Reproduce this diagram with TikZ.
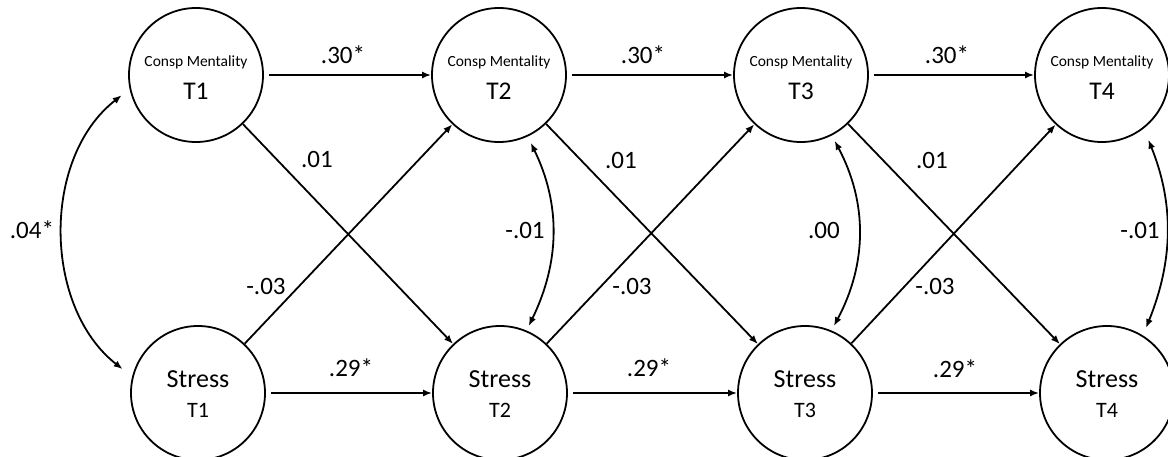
\documentclass[tikz,border=0pt]{standalone}
\usepackage{fontspec}
\setmainfont{Carlito}
\usetikzlibrary{arrows.meta}
\begin{document}
\begin{tikzpicture}[x=1pt,y=1pt,
  var/.style={circle, draw, line width=1.8pt, minimum size=134pt, inner sep=0pt},
  smalltxt/.style={font=\fontsize{15.5}{16}\selectfont, inner sep=0pt, anchor=base},
  bigtxt/.style={font=\fontsize{25.5}{26}\selectfont, inner sep=0pt, anchor=base},
  stresstxt/.style={font=\fontsize{26}{27}\selectfont, inner sep=0pt, anchor=base},
  wavetxt/.style={font=\fontsize{22}{23}\selectfont, inner sep=0pt, anchor=base},
  coef/.style={font=\fontsize{25}{26}\selectfont, inner sep=0pt},
  tip/.tip={Latex[length=9pt,width=7pt]},
  path/.style={-tip, line width=1.8pt},
  cov/.style={tip-tip, line width=1.8pt}]
\useasboundingbox (0,0) rectangle (1168,-457);

% latent variables: conspiracy mentality (top) and stress (bottom), four waves
\foreach \i/\x in {1/196, 2/499, 3/801, 4/1102} {
  \node[var] (c\i) at (\x,-75) {};
  \node[smalltxt] (c\i name) at (\x,-67) {Consp Mentality};
  \node[bigtxt] (c\i wave) at (\x,-100) {T\i};
}
\foreach \i/\x in {1/198, 2/500, 3/805, 4/1107} {
  \node[var] (s\i) at (\x,-393) {};
  \node[stresstxt] (s\i name) at (\x,-387) {Stress};
  \node[wavetxt] (s\i wave) at (\x,-417) {T\i};
}

% autoregressive and cross-lagged paths
\foreach \a/\b in {1/2, 2/3, 3/4} {
  \draw[path, shorten <=5pt] (c\a) -- (c\b);
  \draw[path, shorten <=5pt] (s\a) -- (s\b);
  \draw[path] (c\a) -- (s\b);
  \draw[path] (s\a) -- (c\b);
}

% within-wave covariances
\draw[cov, shorten <=10pt, shorten >=12pt] (c1.192) to[out=218,in=142] (s1.166);
\draw[cov, shorten <=5pt, shorten >=7pt] (s2.67) to[out=64,in=-64] (c2.-65);
\draw[cov, shorten <=5pt, shorten >=6pt] (s3.67) to[out=62,in=-62] (c3.-63);
\draw[cov, shorten <=8pt, shorten >=12pt] (s4.58) to[out=68,in=-68] (c4.-52);

% coefficients
\node[coef] (b1) at (343,-55) {.30*};
\node[coef] (b2) at (643,-55) {.30*};
\node[coef] (b3) at (947,-55) {.30*};
\node[coef] (g1) at (351,-368) {.29*};
\node[coef] (g2) at (649,-368) {.29*};
\node[coef] (g3) at (955,-369) {.29*};
\node[coef] (x1) at (317,-159) {.01};
\node[coef] (x2) at (621,-160) {.01};
\node[coef] (x3) at (932,-160) {.01};
\node[coef] (y1) at (266,-286) {-.03};
\node[coef] (y2) at (632,-286) {-.03};
\node[coef] (y3) at (935,-286) {-.03};
\node[coef] (r1) at (32,-230) {.04*};
\node[coef] (r2) at (525,-230) {-.01};
\node[coef] (r3) at (824,-230) {.00};
\node[coef] (r4) at (1140,-230) {-.01};
\end{tikzpicture}
\end{document}
